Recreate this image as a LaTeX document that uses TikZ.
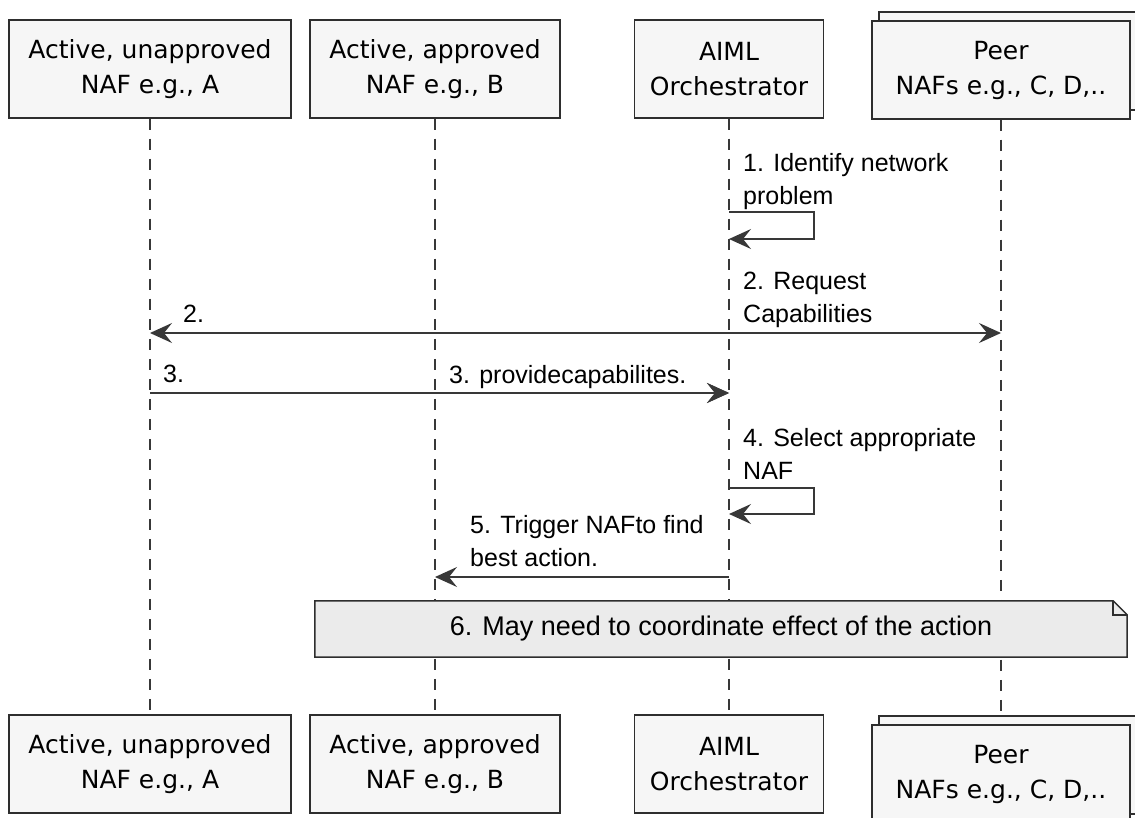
\documentclass[tikz,border=0pt]{standalone}
\usepackage{fontspec}
\setmainfont{Liberation Sans}
\newfontfamily\boxfont{DejaVu Sans}
\usetikzlibrary{arrows.meta,positioning,shadows,backgrounds}
\definecolor{boxfill}{HTML}{F6F6F6}
\definecolor{boxline}{HTML}{2E2E2E}
\definecolor{wire}{HTML}{383838}
\definecolor{notefill}{HTML}{EBEBEB}
\tikzset{
  part/.style={draw=boxline, fill=boxfill, line width=1.5pt, minimum height=98pt,
    inner sep=0pt, align=center, font=\boxfont\fontsize{25}{35}\selectfont},
  peer/.style={part, copy shadow={shadow xshift=7pt, shadow yshift=9pt,
    fill=boxfill, draw=boxline, line width=1.5pt}},
  life/.style={draw=wire, line width=1.3pt, dash pattern=on 11pt off 9pt},
  msg/.style={draw=wire, line width=1.6pt, -{Stealth[length=22pt, width=20pt, inset=8pt]}},
  lbl/.style={anchor=north west, inner sep=0pt, align=left, font=\fontsize{25}{33}\selectfont},
  notebox/.style={draw=boxline, fill=notefill, line width=1.5pt},
}

\begin{document}
\begin{tikzpicture}[x=1pt, y=-1pt]
  \useasboundingbox (0,0) rectangle (1135,818);
  % participants, top and bottom
  \node[part, minimum width=282pt] (aT) at (150,69) {Active, unapproved\\NAF e.g., A};
  \node[part, minimum width=250pt] (bT) at (435,69) {Active, approved\\NAF e.g., B};
  \node[part, minimum width=189pt] (oT) at (729,69) {AIML\\Orchestrator};
  \node[peer, minimum width=258pt] (pT) at (1001,70) {Peer\\NAFs e.g., C, D,..};
  \node[part, minimum width=282pt] (aB) at (150,764) {Active, unapproved\\NAF e.g., A};
  \node[part, minimum width=250pt] (bB) at (435,764) {Active, approved\\NAF e.g., B};
  \node[part, minimum width=189pt] (oB) at (729,764) {AIML\\Orchestrator};
  \node[peer, minimum width=258pt] (pB) at (1001,774) {Peer\\NAFs e.g., C, D,..};
  % note
  \node[minimum width=812pt, minimum height=56pt, inner sep=0pt,
    font=\fontsize{27}{33}\selectfont] (note) at (721,629)
    {6. May need to coordinate effect of the action};
  \begin{pgfonlayer}{background}
    \draw[life] (aT) -- (aB);
    \draw[life] (bT) -- (bB);
    \draw[life] (oT) -- (oB);
    \draw[life] (pT) -- (pB);
    \draw[notebox] (note.north west) -- ([xshift=-14pt]note.north east)
      -- ([yshift=-14pt]note.north east) -- (note.south east)
      -- (note.south west) -- cycle;
    \draw[boxline, line width=1.5pt] ([xshift=-14pt]note.north east)
      -- ([xshift=-14pt, yshift=-14pt]note.north east) -- ([yshift=-14pt]note.north east);
  \end{pgfonlayer}
  % message points
  \coordinate (o1a) at (oT.south |- 0,212);
  \coordinate (o1b) at (oT.south |- 0,239);
  \coordinate (o2) at (oT.south |- 0,333);
  \coordinate (a2) at (aT.south |- 0,333);
  \coordinate (p2) at (pT.south |- 0,333);
  \coordinate (a3) at (aT.south |- 0,393);
  \coordinate (b3) at (bT.south |- 0,393);
  \coordinate (o3) at (oT.south |- 0,393);
  \coordinate (o4a) at (oT.south |- 0,488);
  \coordinate (o4b) at (oT.south |- 0,514);
  \coordinate (o5) at (oT.south |- 0,577);
  \coordinate (b5) at (bT.south |- 0,577);
  % messages
  \draw[msg] (o1a) -- ++(85,0) |- (o1b);
  \node[lbl] (m1) at (743,153) {1. Identify network\\problem};
  \draw[msg] (o2) -- (a2);
  \draw[msg] (o2) -- (p2);
  \node[lbl] (m2a) at (183,305) {2.};
  \node[lbl] (m2b) at (743,272) {2. Request\\Capabilities};
  \draw[msg] (a3) -- (o3);
  \draw[msg] (b3) -- (o3);
  \node[lbl] (m3a) at (163,365) {3.};
  \node[lbl] (m3b) at (449,365) {3. providecapabilites.};
  \draw[msg] (o4a) -- ++(85,0) |- (o4b);
  \node[lbl] (m4) at (743,428) {4. Select appropriate\\NAF};
  \draw[msg] (o5) -- (b5);
  \node[lbl] (m5) at (470,515) {5. Trigger NAFto find\\best action.};
\end{tikzpicture}
\end{document}
